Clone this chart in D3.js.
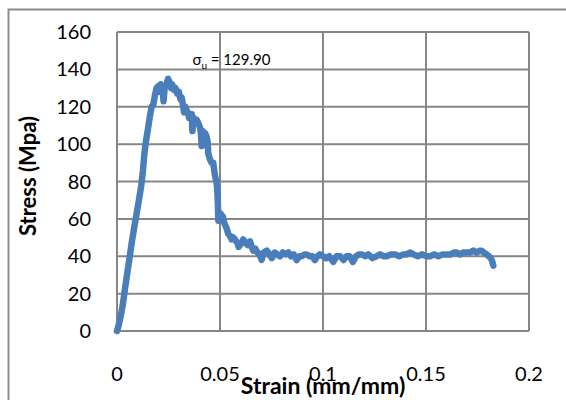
<!DOCTYPE html>
<html>
<head>
<meta charset="utf-8">
<script src="https://cdn.jsdelivr.net/npm/d3@7"></script>
<style>
  body { margin: 0; background: #fff; }
  text { font-family: Lato, "Open Sans", sans-serif; fill: #000; }
</style>
</head>
<body>
<div id="chart"></div>
<script>
// strain (mm/mm) and stress (MPa)
var strain = [0, 0.0008, 0.0018, 0.0028, 0.0038, 0.0050, 0.0062, 0.0074, 0.0086, 0.0097,
  0.0108, 0.0118, 0.0126, 0.0133, 0.0140, 0.0150, 0.0160, 0.0168, 0.0176, 0.0184,
  0.0192, 0.0200, 0.0206, 0.0212, 0.0220, 0.0226, 0.0232, 0.0240, 0.0248, 0.0256,
  0.0262, 0.0268, 0.0276, 0.0284, 0.0292, 0.0300, 0.0308, 0.0314, 0.0320, 0.0326,
  0.0332, 0.0338, 0.0344, 0.0350, 0.0356, 0.0363, 0.0366, 0.0372, 0.0380, 0.0387,
  0.0395, 0.0403, 0.0408, 0.0411, 0.0416, 0.0422, 0.0427, 0.0435, 0.0440, 0.0443,
  0.0451, 0.0459, 0.0467, 0.0472, 0.0476, 0.0484, 0.0487, 0.0490, 0.0492, 0.0496,
  0.0500, 0.0508, 0.0515, 0.0520, 0.0524, 0.0532, 0.0540, 0.0548, 0.0557, 0.0565,
  0.0573, 0.0585, 0.0590, 0.0597, 0.0605, 0.0613, 0.0625, 0.0635, 0.0646, 0.0654,
  0.0662, 0.0672, 0.0682, 0.0692, 0.0702, 0.0712, 0.0727, 0.0740, 0.0752, 0.0765,
  0.0778, 0.0791, 0.0805, 0.0818, 0.0832, 0.0845, 0.0858, 0.0872, 0.0885, 0.0898,
  0.0910, 0.0921, 0.0935, 0.0948, 0.0961, 0.0973, 0.0985, 0.1000, 0.1015, 0.1030,
  0.1050, 0.1065, 0.1083, 0.1100, 0.1115, 0.1130, 0.1145, 0.1160, 0.1175, 0.1188,
  0.1205, 0.1220, 0.1240, 0.1260, 0.1277, 0.1295, 0.1310, 0.1330, 0.1350, 0.1370,
  0.1390, 0.1405, 0.1422, 0.1440, 0.1460, 0.1480, 0.1503, 0.1520, 0.1540, 0.1560,
  0.1580, 0.1600, 0.1620, 0.1635, 0.1649, 0.1665, 0.1680, 0.1700, 0.1715, 0.1730,
  0.1745, 0.1762, 0.1770, 0.1780, 0.1795, 0.1805, 0.1815, 0.1822, 0.1827];
var stress = [0, 3, 8, 14, 22, 31, 40, 49, 57, 64,
  71, 78, 86, 95, 101, 108, 115, 120, 121, 126,
  130, 131, 128, 132, 130, 123, 131, 132, 135, 133,
  130, 132, 129, 130, 127, 128, 124, 125, 121, 117,
  120, 118, 117, 114, 116, 116, 107, 114, 113, 113,
  111, 109, 105, 99, 107, 106, 106, 104, 101, 95,
  92, 90, 90, 86, 83, 79, 75, 67, 59, 62,
  63, 62, 61, 58, 57, 55, 52, 51, 49, 50,
  49, 47, 45, 46, 47, 49, 47, 46, 48, 45,
  43, 44, 42, 41, 38, 42, 43, 41, 39, 42,
  41, 40, 42, 41, 42, 40, 41, 38, 40, 40,
  41, 41, 40, 40, 38, 40, 41, 40, 39, 40,
  37, 40, 40, 38, 40, 40, 37, 40, 41, 41,
  40, 41, 39, 40, 41, 40, 40, 41, 41, 40,
  41, 41, 42, 41, 40, 41, 40, 40, 41, 40,
  41, 41, 41, 42, 42, 41, 42, 42, 42, 43,
  42, 43, 43, 42, 41, 40, 39, 37, 35];

var xTicks = [0, 0.05, 0.1, 0.15, 0.2];
var xTickLabels = ["0", "0.05", "0.1", "0.15", "0.2"];
var yTicks = [0, 20, 40, 60, 80, 100, 120, 140, 160];

var W = 566, H = 400;
var margin = {top: 32, right: 37, bottom: 69, left: 117},
    width = W - margin.left - margin.right,
    height = H - margin.top - margin.bottom;

var svg = d3.select("#chart").append("svg")
    .attr("width", W)
    .attr("height", H);

// outer chart frame
svg.append("rect")
    .attr("x", 8.5).attr("y", 9.5)
    .attr("width", W).attr("height", H)
    .attr("fill", "none")
    .attr("stroke", "#8c8c8c")
    .attr("stroke-width", 2);

var g = svg.append("g")
    .attr("transform", "translate(" + margin.left + "," + margin.top + ")");

var x = d3.scaleLinear().domain([0, 0.2]).range([0, width]);
var y = d3.scaleLinear().domain([0, 160]).range([height, 0]);

// grid
g.append("g").selectAll("line")
    .data(yTicks)
    .enter().append("line")
    .attr("x1", 0).attr("x2", width)
    .attr("y1", function(d) { return y(d); })
    .attr("y2", function(d) { return y(d); })
    .attr("stroke", "#868686").attr("stroke-width", 2);

g.append("g").selectAll("line")
    .data(xTicks)
    .enter().append("line")
    .attr("y1", 0).attr("y2", height)
    .attr("x1", function(d) { return x(d); })
    .attr("x2", function(d) { return x(d); })
    .attr("stroke", "#868686").attr("stroke-width", 2);

// tick labels
g.append("g").selectAll("text")
    .data(yTicks)
    .enter().append("text")
    .attr("x", -26)
    .attr("y", function(d) { return y(d) + 7; })
    .attr("text-anchor", "end")
    .style("font-size", "20px")
    .text(function(d) { return d; });

g.append("g").selectAll("text")
    .data(xTicks)
    .enter().append("text")
    .attr("x", function(d) { return x(d); })
    .attr("y", height + 50)
    .attr("text-anchor", "middle")
    .style("font-size", "20px")
    .text(function(d, i) { return xTickLabels[i]; });

// the curve
var pts = strain.map(function(s, i) { return [s, stress[i]]; });
g.append("path")
    .datum(pts)
    .attr("fill", "none")
    .attr("stroke", "#4a7ebb")
    .attr("stroke-width", 6.5)
    .attr("stroke-linejoin", "round")
    .attr("stroke-linecap", "round")
    .attr("d", d3.line()
        .x(function(d) { return x(d[0]); })
        .y(function(d) { return y(d[1]); }));

// annotation
var ann = g.append("text")
    .attr("x", x(0.0366))
    .attr("y", y(140) - 4)
    .style("font-size", "15px");
ann.append("tspan").text("σ");
ann.append("tspan").attr("dy", 4).style("font-size", "10px").text("u");
ann.append("tspan").attr("dy", -4).text(" = 129.90");

// axis titles
svg.append("text")
    .attr("x", margin.left + x(0.1))
    .attr("y", 394)
    .attr("text-anchor", "middle")
    .style("font-size", "23px")
    .style("font-weight", "bold")
    .text("Strain (mm/mm)");

svg.append("text")
    .attr("transform", "translate(36,176) rotate(-90)")
    .attr("text-anchor", "middle")
    .style("font-size", "22px")
    .style("font-weight", "bold")
    .text("Stress (Mpa)");
</script>
</body>
</html>
